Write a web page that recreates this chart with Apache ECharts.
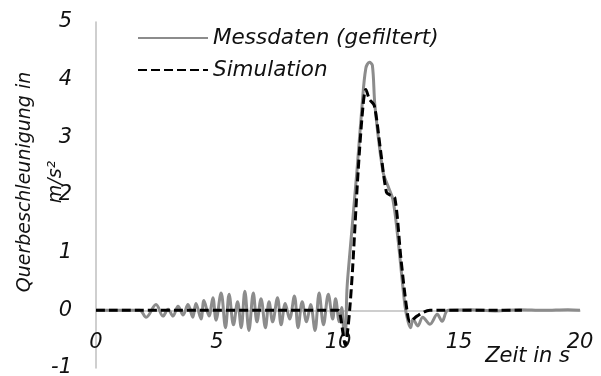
<!DOCTYPE html>
<html><head><meta charset="utf-8">
<script src="https://cdn.jsdelivr.net/npm/echarts@6/dist/echarts.min.js"></script>
<style>html,body{margin:0;padding:0;background:#fff}#c{width:601px;height:376px}</style>
</head><body><div id="c"></div>
<script>
const xTicks = [0, 5, 10, 15, 20];
const yTicks = [-1, 0, 1, 2, 3, 4, 5];
const seriesNames = ['Messdaten (gefiltert)', 'Simulation'];
const xAxisTitle = 'Zeit in s';
const yAxisTitle = 'Querbeschleunigung in\nm/s²';

const measTime = [0, 1.8, 2.07, 2.48, 2.77, 2.98, 3.18, 3.39, 3.6, 3.8, 4.0, 4.13, 4.34, 4.46, 4.67, 4.83, 4.96,
  5.17, 5.35, 5.5, 5.68, 5.85, 6.0, 6.15, 6.32, 6.5, 6.65, 6.82, 7.0, 7.15, 7.3, 7.5, 7.65, 7.82, 8.0,
  8.2, 8.35, 8.52, 8.7, 8.87, 9.05, 9.22, 9.4, 9.6, 9.78, 9.9, 10.05, 10.15, 10.25, 10.3, 10.37, 10.45,
  10.78, 10.99, 11.15, 11.3, 11.42, 11.53, 11.86, 12.07, 12.27, 12.48, 12.77, 12.9, 13.0, 13.1, 13.3,
  13.5, 13.8, 14.1, 14.3, 14.55, 15.5, 16.5, 17.5, 18.5, 19.5, 20];
const measValue = [0, 0, -0.12, 0.1, -0.1, 0.02, -0.1, 0.07, -0.08, 0.1, -0.12, 0.12, -0.15, 0.17, -0.1, 0.22, -0.17,
  0.3, -0.3, 0.28, -0.25, 0.15, -0.3, 0.33, -0.35, 0.3, -0.2, 0.2, -0.3, 0.15, -0.2, 0.22, -0.25, 0.12, -0.15,
  0.25, -0.3, 0.15, -0.2, 0.1, -0.35, 0.3, -0.25, 0.28, -0.15, 0.2, -0.2, 0.05, -0.4, -0.42, 0.36, 0.8,
  2.4, 3.53, 4.2, 4.3, 4.25, 3.53, 2.4, 2.15, 1.92, 1.23, 0.07, -0.2, -0.3, -0.15, -0.27,
  -0.12, -0.24, -0.07, -0.19, 0, 0.01, -0.01, 0.01, 0, 0.01, 0];

const simTime = [0, 10.0, 10.1, 10.2, 10.3, 10.4, 10.5, 10.6, 10.83, 11.03, 11.15, 11.3, 11.5, 11.75, 12.0,
  12.15, 12.35, 12.6, 12.85, 12.98, 13.26, 13.8, 17.6];
const simValue = [0, 0, -0.1, -0.38, -0.6, -0.35, 0.1, 0.7, 2.4, 3.53, 3.83, 3.66, 3.55, 2.8, 2.05,
  2.0, 1.95, 0.9, 0.0, -0.2, -0.1, 0, 0];

const font = '"DejaVu Sans", sans-serif';
const txt = {fontFamily: font, fontStyle: 'italic', fontSize: 21, color: '#111'};
const chart = echarts.init(document.getElementById('c'), null, {renderer: 'canvas'});
chart.setOption({
  animation: false,
  backgroundColor: '#fff',
  grid: {left: 96, right: 21, top: 22, bottom: 8, containLabel: false, outerBoundsMode: 'none'},
  legend: {
    orient: 'vertical', left: 137, top: 27, itemWidth: 70, itemHeight: 20, itemGap: 10, padding: 0,
    textStyle: Object.assign({}, txt, {fontSize: 21.5}),
    itemStyle: {opacity: 0, borderWidth: 0},
    data: seriesNames
  },
  xAxis: {
    type: 'value', min: xTicks[0], max: xTicks[xTicks.length - 1], interval: 5,
    axisLine: {onZero: true, lineStyle: {color: '#bfbfbf', width: 1.5}},
    axisTick: {show: false}, splitLine: {show: false},
    axisLabel: Object.assign({margin: -36}, txt)
  },
  yAxis: {
    type: 'value', min: yTicks[0], max: yTicks[yTicks.length - 1], interval: 1,
    axisLine: {show: true, lineStyle: {color: '#bfbfbf', width: 1.5}},
    axisTick: {show: false}, splitLine: {show: false},
    axisLabel: Object.assign({margin: 24}, txt),
    name: yAxisTitle, nameLocation: 'middle', nameRotate: 90, nameGap: 24, nameMoveOverlap: false,
    nameTextStyle: {fontFamily: font, fontStyle: 'italic', fontSize: 19, color: '#111', lineHeight: 31, align: 'center', padding: [0, 0, 0, 26]}
  },
  graphic: [{
    type: 'text', right: 31, top: 346,
    style: {text: xAxisTitle, font: 'italic 21px "DejaVu Sans", sans-serif', fill: '#111'}
  }],
  series: [{
    name: seriesNames[0], type: 'line', symbol: 'none', smooth: 0.35,
    lineStyle: {color: '#8c8c8c', width: 3}, itemStyle: {color: '#8c8c8c'},
    data: measTime.map((t, i) => [t, measValue[i]])
  }, {
    name: seriesNames[1], type: 'line', symbol: 'none', smooth: 0.3,
    lineStyle: {color: '#000', width: 3, type: [9, 4]}, itemStyle: {color: '#000'},
    data: simTime.map((t, i) => [t, simValue[i]])
  }]
});
</script></body></html>
